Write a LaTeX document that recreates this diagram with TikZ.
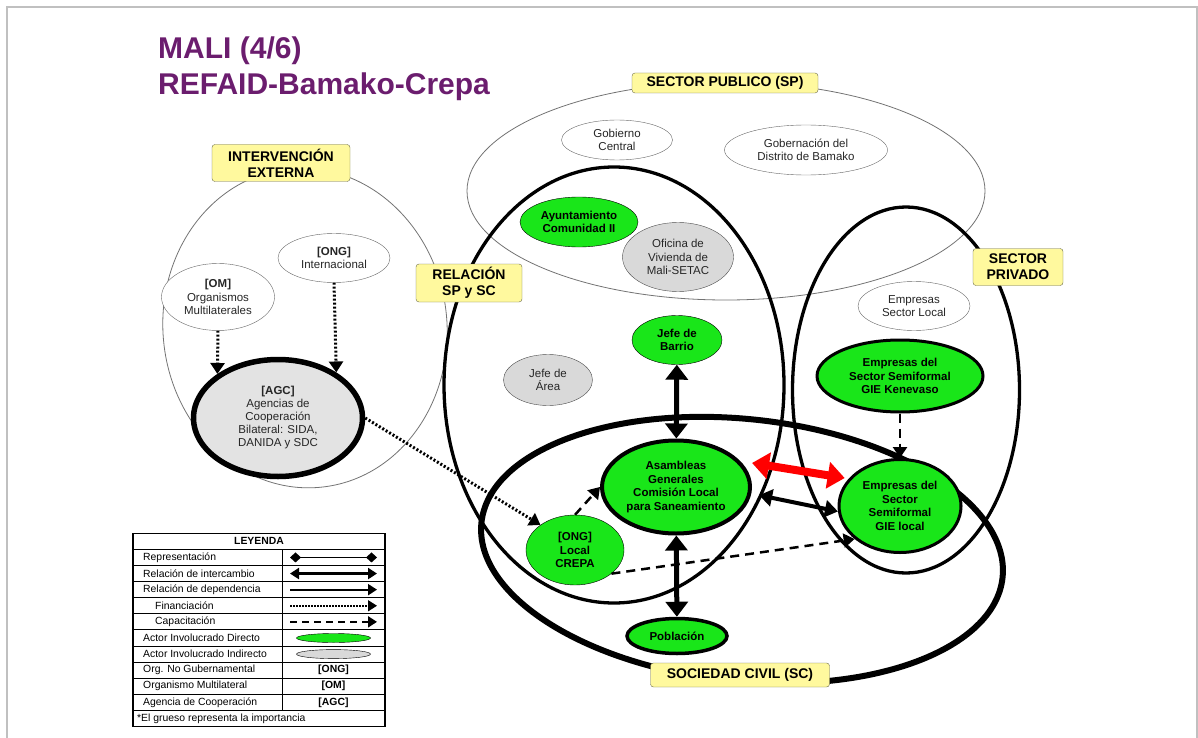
\documentclass[tikz,border=0pt]{standalone}
\usepackage{fontspec}
\setmainfont{Liberation Sans}
\usetikzlibrary{arrows.meta,shapes.geometric,positioning}
\definecolor{TitlePurple}{HTML}{6B1D6E}
\definecolor{ActorGreen}{HTML}{19E619}
\definecolor{ActorGray}{HTML}{D9D9D9}
\definecolor{AgcGray}{HTML}{E3E3E3}
\definecolor{TagYellow}{HTML}{FFF99E}
\definecolor{TagEdge}{HTML}{6B6B4A}
\definecolor{FrameGray}{HTML}{C0C0C0}

\begin{document}
\begin{tikzpicture}[x=1pt,y=-1pt,
  region/.style={ellipse,draw,inner sep=0pt},
  actor/.style={ellipse,draw,inner sep=0pt,align=center,text=black!85,font=\fontsize{11.5}{13.5}\selectfont},
  direct/.style={actor,fill=ActorGreen,draw=black,text=black,font=\bfseries\fontsize{11.5}{13.5}\selectfont},
  indirect/.style={actor,fill=ActorGray,draw=black!70},
  other/.style={actor,fill=white,draw=black!60},
  tag/.style={draw=TagEdge,fill=TagYellow,rounded corners=3pt,align=center,inner sep=0pt,font=\bfseries\fontsize{14}{16}\selectfont},
  bighead/.tip={Triangle[width=22pt,length=15pt]},
  midhead/.tip={Triangle[width=17pt,length=13pt]},
  redhead/.tip={Triangle[width=26pt,length=17pt]},
  smallhead/.tip={Triangle[width=14pt,length=11pt]},
  keyhead/.tip={Triangle[width=11pt,length=9pt]},
  exch/.style={bighead-bighead,line width=5pt},
  exchmid/.style={midhead-midhead,line width=4pt},
  exchred/.style={redhead-redhead,line width=8pt,red},
  fin/.style={-smallhead,line width=3pt,dash pattern=on 2pt off 2pt},
  training/.style={-smallhead,line width=2.5pt,dash pattern=on 9pt off 6pt},
  lgtext/.style={anchor=west,inner sep=0pt,font=\fontsize{10.4}{12}\selectfont}
]
  \useasboundingbox (0,0) rectangle (1198,738);
  \draw[FrameGray,line width=2.4pt] (7,7) rectangle (1197,760);

  % title
  \node[anchor=base west,inner sep=0pt,text=TitlePurple,font=\bfseries\fontsize{30}{36}\selectfont] (title1) at (158,59) {MALI (4/6)};
  \node[anchor=base west,inner sep=0pt,text=TitlePurple,font=\bfseries\fontsize{30}{36}\selectfont] (title2) at (158,95) {REFAID-Bamako-Crepa};

  % big regions
  \node[region,draw=black!55,line width=0.8pt,minimum width=518pt,minimum height=218pt] (sp) at (726,191) {};
  \node[region,draw=black!55,line width=0.8pt,minimum width=284pt,minimum height=320pt,rotate=6] (ext) at (305,328) {};
  \node[region,line width=3.3pt,minimum width=340pt,minimum height=436pt] (rel) at (614,385) {};
  \node[region,line width=3.3pt,minimum width=227pt,minimum height=366pt] (priv) at (906,390) {};
  \node[region,line width=6pt,minimum width=524pt,minimum height=262pt,rotate=-6] (sc) at (742,550) {};

  % sector publico
  \node[other,minimum width=111pt,minimum height=40pt] (gob) at (617,140) {Gobierno\\Central};
  \node[other,minimum width=163pt,minimum height=50pt] (gobbam) at (806,150) {Gobernación del\\Distrito de Bamako};
  \node[direct,minimum width=118pt,minimum height=50pt] (ayto) at (579,222) {Ayuntamiento\\Comunidad II};
  \node[indirect,minimum width=111pt,minimum height=69pt] (ofi) at (678,257) {Oficina de\\Vivienda de\\Mali-SETAC};

  % intervencion externa
  \node[other,minimum width=113pt,minimum height=67pt] (om) at (218,297) {\textbf{[OM]}\\Organismos\\Multilaterales};
  \node[other,minimum width=112pt,minimum height=49pt] (ongi) at (334,258) {\textbf{[ONG]}\\Internacional};
  \node[indirect,fill=AgcGray,draw=black,line width=5.5pt,minimum width=169pt,minimum height=117pt,font=\fontsize{11.5}{13}\selectfont] (agc) at (278,418) {\textbf{[AGC]}\\Agencias de\\Cooperación\\Bilateral: SIDA,\\DANIDA y SDC};

  % relacion y sociedad civil
  \node[direct,minimum width=90pt,minimum height=49pt] (barrio) at (677,340) {Jefe de\\Barrio};
  \node[indirect,minimum width=89pt,minimum height=51pt] (area) at (548,380) {Jefe de\\Área};
  \node[direct,line width=4pt,minimum width=148pt,minimum height=93pt] (asam) at (676,487) {Asambleas\\Generales\\Comisión Local\\para Saneamiento};
  \node[direct,minimum width=98pt,minimum height=70pt] (crepa) at (575,550) {[ONG]\\Local\\CREPA};
  \node[direct,line width=3.5pt,minimum width=100pt,minimum height=35pt] (pobl) at (677,636) {Población};

  % sector privado
  \node[other,minimum width=112pt,minimum height=49pt] (emploc) at (914,306) {Empresas\\Sector Local};
  \node[direct,line width=3pt,minimum width=166pt,minimum height=72pt] (kenev) at (900,376) {Empresas del\\Sector Semiformal\\GIE Kenevaso};
  \node[direct,line width=3pt,minimum width=122pt,minimum height=93pt] (giel) at (900,506) {Empresas del\\Sector\\Semiformal\\GIE local};

  % tags
  \node[tag,minimum width=186pt,minimum height=20pt] (sptag) at (725,83) {SECTOR PUBLICO (SP)};
  \node[tag,minimum width=138pt,minimum height=37pt] (exttag) at (281,163) {INTERVENCIÓN\\EXTERNA};
  \node[tag,minimum width=106pt,minimum height=38pt] (reltag) at (469,283) {RELACIÓN\\SP y SC};
  \node[tag,minimum width=90pt,minimum height=37pt] (privtag) at (1018,267) {SECTOR\\PRIVADO};
  \node[tag,minimum width=179pt,minimum height=24pt] (sctag) at (740,675) {SOCIEDAD CIVIL (SC)};

  % relations
  \draw[fin] (om.south) -- (agc.144);
  \draw[fin] (ongi.south) -- (agc.38);
  \draw[fin] (agc.east) -- (crepa.144);
  \draw[exch] (barrio) -- (asam);
  \draw[exch] (asam) -- (pobl);
  \draw[training] (crepa.north) -- (asam.west);
  \draw[training] (crepa.-33) -- (giel.216);
  \draw[training] (kenev.south) -- (giel.north);
  \draw[exchmid,shorten <=8pt] (asam.-5) -- (giel.185);
  \draw[exchred,shorten <=12pt,shorten >=4pt] (asam.22) -- (giel.152);

  % legend
  \draw[line width=1.4pt] (133,533.3) rectangle (385,726.5);
  \foreach \k in {1,...,11}
    \draw[line width=0.9pt] (133,{533.3+16.1*\k}) -- (385,{533.3+16.1*\k});
  \draw[line width=0.9pt] (282,549.4) -- (282,710.4);
  \node[inner sep=0pt,font=\bfseries\fontsize{10.4}{12}\selectfont] (lgtitle) at (259,541.4) {LEYENDA};
  \foreach \lx/\txt [count=\k] in {143/Representación,143/Relación de intercambio,143/Relación de dependencia,155/Financiación,155/Capacitación,143/Actor Involucrado Directo,143/Actor Involucrado Indirecto,143/Org. No Gubernamental,143/Organismo Multilateral,143/Agencia de Cooperación,137/*El grueso representa la importancia}
    \node[lgtext] (lgrow\k) at (\lx,{533.3+16.1*(\k+0.5)}) {\txt};
  \foreach \k in {1,...,5} {
    \coordinate (lgfrom\k) at (290,{533.3+16.1*(\k+0.5)});
    \coordinate (lgto\k) at (377,{533.3+16.1*(\k+0.5)});
  }
  \draw[line width=1.4pt,{Diamond[width=10pt,length=11pt]}-{Diamond[width=10pt,length=11pt]}] (lgfrom1) -- (lgto1);
  \draw[line width=2.5pt,keyhead-keyhead] (lgfrom2) -- (lgto2);
  \draw[line width=2pt,-keyhead] (lgfrom3) -- (lgto3);
  \draw[line width=1.5pt,dash pattern=on 1.5pt off 1.5pt,-keyhead] (lgfrom4) -- (lgto4);
  \draw[line width=2pt,dash pattern=on 7pt off 5pt,-keyhead] (lgfrom5) -- (lgto5);
  \node[ellipse,draw,fill=ActorGreen,inner sep=0pt,minimum width=74pt,minimum height=9pt] (lgdirect) at (333.5,638) {};
  \node[ellipse,draw,fill=ActorGray,inner sep=0pt,minimum width=74pt,minimum height=9pt] (lgindirect) at (333.5,654.1) {};
  \node[inner sep=0pt,font=\bfseries\fontsize{10.4}{12}\selectfont] (lgong) at (333.5,670.2) {[ONG]};
  \node[inner sep=0pt,font=\bfseries\fontsize{10.4}{12}\selectfont] (lgom) at (333.5,686.3) {[OM]};
  \node[inner sep=0pt,font=\bfseries\fontsize{10.4}{12}\selectfont] (lgagc) at (333.5,702.4) {[AGC]};
\end{tikzpicture}
\end{document}
